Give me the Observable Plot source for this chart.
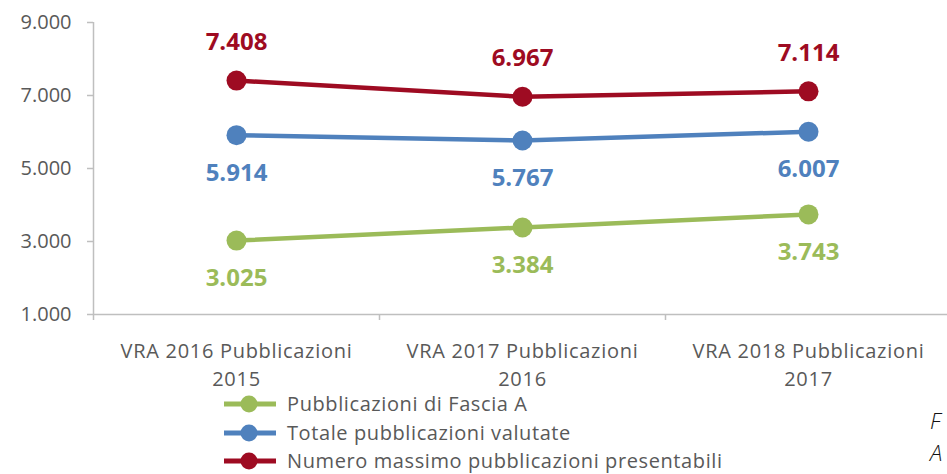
<!DOCTYPE html>
<html><head><meta charset="utf-8">
<script src="https://cdn.jsdelivr.net/npm/d3@7"></script>
<script src="https://cdn.jsdelivr.net/npm/@observablehq/plot@0.6"></script>
<style>
body{margin:0;background:#fff;font-family:"Open Sans",sans-serif;}
#wrap{position:relative;width:947px;height:474px;overflow:hidden;background:#fff;}
#chart{position:absolute;left:0;top:0;}
#chart [aria-label="y-axis tick"], #chart [aria-label="x-axis tick"]{stroke:#bfbfbf;stroke-width:1.5px;}
#chart [aria-label="y-axis tick label"], #chart [aria-label="x-axis tick label"]{fill:#595959;}
#chart [aria-label="y-axis tick label"]{font-size:20px;}
#chart [aria-label="x-axis tick label"]{font-size:20px;letter-spacing:0.7px;}
#legend{position:absolute;left:224px;top:390px;font-size:20px;letter-spacing:0.6px;color:#595959;}
.row{display:flex;align-items:center;height:28.5px;line-height:20px;}
.row svg{margin-right:11px;}
#note{position:absolute;left:930px;top:404px;font-style:italic;font-weight:300;font-size:22px;color:#111;line-height:32px;}
</style></head><body>
<div id="wrap"><div id="chart"></div><div id="legend"></div><div id="note"><div>F</div><div>A</div></div></div>
<script>
const categories = ["VRA 2016 Pubblicazioni\n2015", "VRA 2017 Pubblicazioni\n2016", "VRA 2018 Pubblicazioni\n2017"];
const seriesNames = ["Pubblicazioni di Fascia A", "Totale pubblicazioni valutate", "Numero massimo pubblicazioni presentabili"];
const fasciaA = [3025, 3384, 3743];
const totale = [5914, 5767, 6007];
const massimo = [7408, 6967, 7114];
const yTicks = [1000, 3000, 5000, 7000, 9000];
const seriesColors = ["#9bbb59", "#4f81bd", "#9e0b22"];

const fmt = d3.formatLocale({decimal: ",", thousands: ".", grouping: [3], currency: ["", "€"]}).format(",d");
const seriesValues = [fasciaA, totale, massimo];
const data = [];
seriesValues.forEach((vals, s) => vals.forEach((v, i) => data.push({series: seriesNames[s], i, value: v, s})));
const xpos = d => d.i + 0.5;
const above = data.filter(d => d.s === 2);
const below = data.filter(d => d.s !== 2);

const chart = Plot.plot({
  width: 947, height: 402,
  marginLeft: 93, marginRight: -4, marginTop: 22, marginBottom: 88,
  style: {fontFamily: '"Open Sans", sans-serif', fontSize: "20px", color: "#595959", background: "white"},
  x: {domain: [0, 3], axis: null},
  y: {domain: [1000, 9000], axis: null},
  color: {domain: seriesNames, range: seriesColors},
  marks: [
    Plot.axisY({ticks: yTicks, tickFormat: fmt, tickSize: 6, tickPadding: 16, label: null}),
    Plot.axisX({ticks: [0, 1, 2, 3], tickSize: 6, tickFormat: () => "", label: null}),
    Plot.axisX({ticks: [0.5, 1.5, 2.5], tickSize: 0, tickPadding: 24, lineHeight: 1.4,
      tickFormat: d => categories[Math.floor(d)], label: null}),
    Plot.ruleX([0], {y1: 1000, y2: 9000, stroke: "#bfbfbf", strokeWidth: 1.5}),
    Plot.ruleY([1000], {stroke: "#bfbfbf", strokeWidth: 1.5}),
    Plot.line(data, {x: xpos, y: "value", z: "series", stroke: "series", strokeWidth: 4.5}),
    Plot.dot(data, {x: xpos, y: "value", fill: "series", r: 10}),
    Plot.text(above, {x: xpos, y: "value", text: d => fmt(d.value), fill: "series", dy: -38, fontSize: 24, fontWeight: "bold"}),
    Plot.text(below, {x: xpos, y: "value", text: d => fmt(d.value), fill: "series", dy: 38, fontSize: 24, fontWeight: "bold"})
  ]
});
document.getElementById("chart").appendChild(chart);

const legend = document.getElementById("legend");
seriesNames.forEach((name, k) => {
  const row = document.createElement("div");
  row.className = "row";
  row.innerHTML = `<svg width="52" height="20"><line x1="0" x2="52" y1="10" y2="10" stroke="${seriesColors[k]}" stroke-width="5"/><circle cx="25" cy="10" r="8.5" fill="${seriesColors[k]}"/></svg><span>${name}</span>`;
  legend.appendChild(row);
});
</script>
</body></html>
